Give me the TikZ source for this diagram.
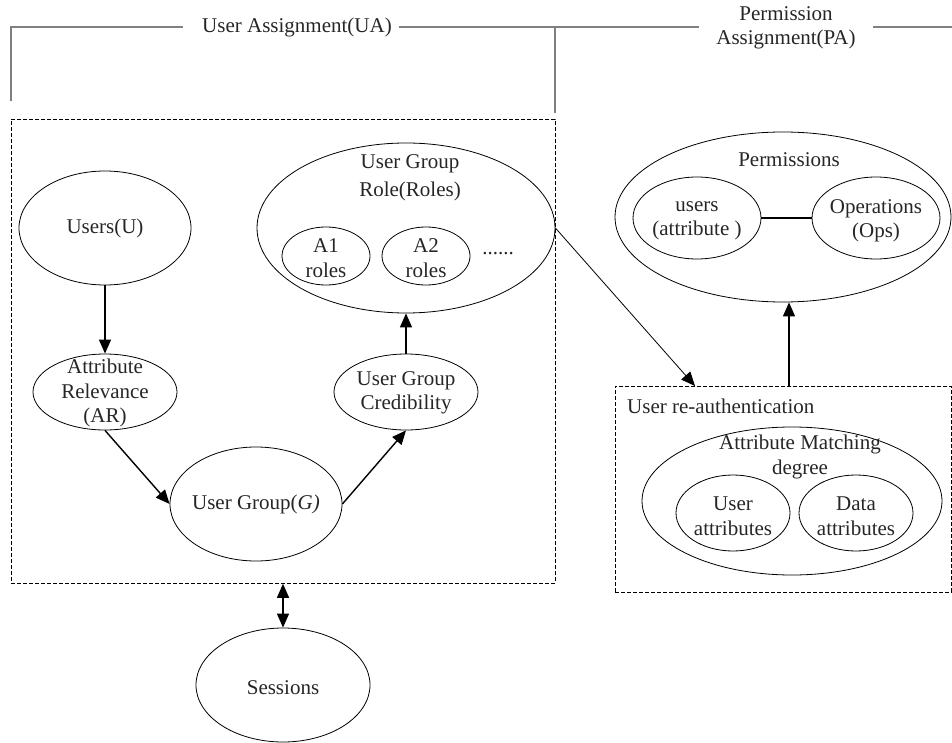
\documentclass[tikz,border=0pt]{standalone}
\usepackage{fontspec}
\setmainfont{Liberation Serif}
\usetikzlibrary{arrows.meta,shapes.geometric}
\newcommand\myfs{\fontsize{21}{24.5}\selectfont}
\newcommand\myfswide{\fontsize{21}{28}\selectfont}
\begin{document}
\begin{tikzpicture}[x=1pt,y=-1pt,
  ell/.style={draw,ellipse,inner sep=0pt,line width=0.8pt},
  txt/.style={inner sep=0pt,align=center,font=\myfs,text=black!85},
  arr/.style={line width=1.4pt,-{Triangle[length=14pt,width=12pt]}},
  dblarr/.style={line width=1.4pt,{Triangle[length=14pt,width=12pt]}-{Triangle[length=14pt,width=12pt]}},
  thinarr/.style={line width=0.8pt,-{Triangle[length=14pt,width=12pt]}},
  dbox/.style={draw,dash pattern=on 4pt off 2pt,line width=0.8pt,inner sep=0pt},
  bracket/.style={draw=black!50,line width=2pt}]
\useasboundingbox (0,0) rectangle (952,743);

% titles and brackets
\node[txt] (uatitle) at (297,27) {User Assignment(UA)};
\node[txt] (patitle) at (786,28) {Permission\\Assignment(PA)};
\draw[bracket] (11,101) -- (11,27) -- (183,27);
\draw[bracket] (399,27) -- (699,27);
\draw[bracket] (555,27) -- (555,113);
\draw[bracket] (873,27) -- (952,27);

% boxes
\node[dbox,minimum width=544pt,minimum height=464pt,anchor=north west] (uabox) at (11,119) {};
\node[dbox,minimum width=336pt,minimum height=206pt,anchor=north west] (reauth) at (615,386) {};
\node[txt,anchor=west] (reauthtxt) at (627,406) {User re-authentication};

% left part
\node[ell,minimum width=172pt,minimum height=114pt] (users) at (105,228) {};
\node[txt] (userst) at (users) {Users(U)};
\node[ell,minimum width=144pt,minimum height=76pt] (ar) at (105,392) {};
\node[txt] (art) at (105,393) {Attribute\\Relevance\\(AR)};
\node[ell,minimum width=172pt,minimum height=114pt] (ug) at (256,504) {};
\node[txt] (ugt) at (ug) {User Group(\textit{G)}};
\node[ell,minimum width=144pt,minimum height=76pt] (ugc) at (406,392) {};
\node[txt] (ugct) at (406,393) {User Group\\Credibility};
\node[ell,minimum width=298pt,minimum height=170pt] (ugr) at (406,228) {};
\node[txt,font=\myfswide] (ugrt) at (410,178) {User Group\\Role(Roles)};
\node[ell,minimum width=88pt,minimum height=58pt] (a1) at (326,256) {};
\node[txt] (a1t) at (326,258) {A1\\roles};
\node[ell,minimum width=88pt,minimum height=58pt] (a2) at (426,256) {};
\node[txt] (a2t) at (426,258) {A2\\roles};
\node[txt] (dots) at (498,254) {......};
\node[ell,minimum width=174pt,minimum height=114pt] (sess) at (283,685) {};
\node[txt] (sesst) at (283,688) {Sessions};

% right part
\node[ell,minimum width=336pt,minimum height=170pt] (perm) at (783,217) {};
\node[txt] (permt) at (789,160) {Permissions};
\node[ell,minimum width=128pt,minimum height=82pt] (usr) at (697,218) {};
\node[txt] (usrt) at (697,221) {users\\(attribute )};
\node[ell,minimum width=128pt,minimum height=82pt] (ops) at (876,218) {};
\node[txt] (opst) at (876,221) {Operations\\(Ops)};
\node[ell,minimum width=300pt,minimum height=148pt] (am) at (792,501) {};
\node[txt] (amt) at (800,457) {Attribute Matching\\degree};
\node[ell,minimum width=114pt,minimum height=76pt] (uat) at (733,513) {};
\node[txt] (uatt) at (733,516) {User\\attributes};
\node[ell,minimum width=114pt,minimum height=76pt] (dat) at (856,513) {};
\node[txt] (datt) at (856,516) {Data\\attributes};

% connectors
\draw[arr] (users) -- (ar);
\draw[arr] (ar.south) -- (ug.west);
\draw[arr] (ug.east) -- (ugc.south);
\draw[arr] (ugc) -- (ugr);
\draw[thinarr] (ugr.east) -- ([xshift=80pt]reauth.north west);
\draw[arr] ([xshift=174pt]reauth.north west) -- ([xshift=174pt]reauth.north west |- perm.south);
\draw[line width=1.6pt] (usr) -- (ops);
\draw[dblarr] (uabox.south -| sess) -- (sess);
\end{tikzpicture}
\end{document}
